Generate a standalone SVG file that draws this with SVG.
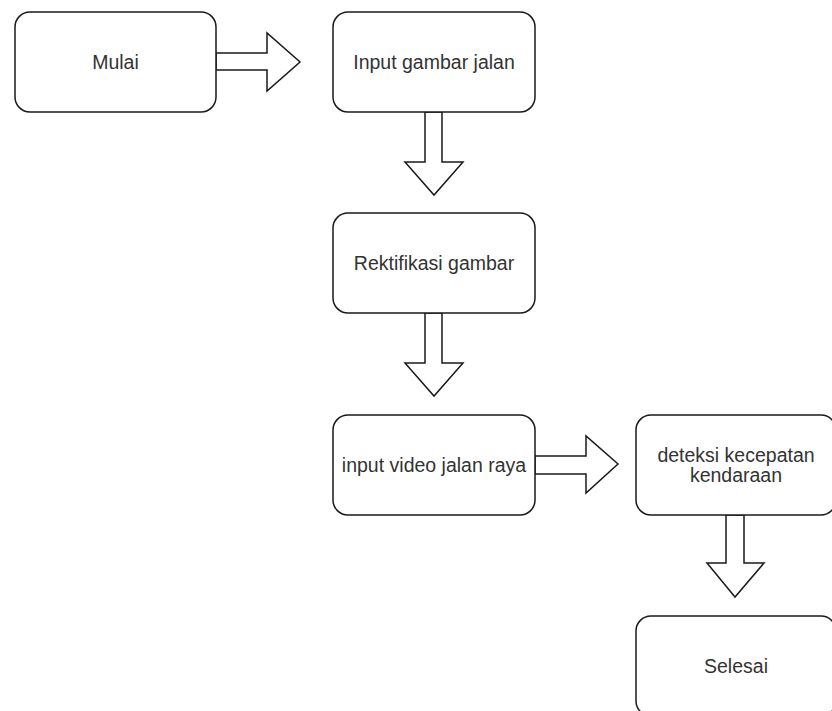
<svg xmlns="http://www.w3.org/2000/svg" width="832" height="711" viewBox="0 0 832 711">
<style>
.box{fill:#fff;stroke:#1a1a1a;stroke-width:1.5}
.arr{fill:#fff;stroke:#1a1a1a;stroke-width:1.5;stroke-linejoin:miter}
.t{font-family:"Liberation Sans",Arial,sans-serif;font-size:19.5px;fill:#333;text-anchor:middle}
</style>
<rect width="832" height="711" fill="#fff"/>
<g id="connectors">
<polygon class="arr" points="216,53 267,53 267,33 300,62 267,91 267,70 216,70"/>
<polygon class="arr" points="425,112 442,112 442,162 463,162 434,195 405,162 425,162"/>
<polygon class="arr" points="425,313 442,313 442,363 463,363 434,396 405,363 425,363"/>
<polygon class="arr" points="535,456 586,456 586,436 618,464 586,493 586,474 535,474"/>
<polygon class="arr" points="726,515 744,515 744,563 764,563 735,597 707,563 726,563"/>
</g>
<g id="mulai"><rect class="box" x="15" y="12" width="201" height="100" rx="15"/><text class="t" x="115.5" y="69">Mulai</text></g>
<g id="input-gambar"><rect class="box" x="333" y="12" width="202" height="100" rx="15"/><text class="t" x="434" y="69">Input gambar jalan</text></g>
<g id="rektifikasi"><rect class="box" x="333" y="213" width="202" height="100" rx="15"/><text class="t" x="434" y="270">Rektifikasi gambar</text></g>
<g id="input-video"><rect class="box" x="333" y="415" width="202" height="100" rx="15"/><text class="t" x="434" y="472">input video jalan raya</text></g>
<g id="deteksi"><rect class="box" x="636" y="415" width="200" height="100" rx="15"/><text class="t" x="736" y="462">deteksi kecepatan</text><text class="t" x="736" y="482">kendaraan</text></g>
<g id="selesai"><rect class="box" x="636" y="616" width="200" height="100" rx="15"/><text class="t" x="736" y="673">Selesai</text></g>
</svg>
